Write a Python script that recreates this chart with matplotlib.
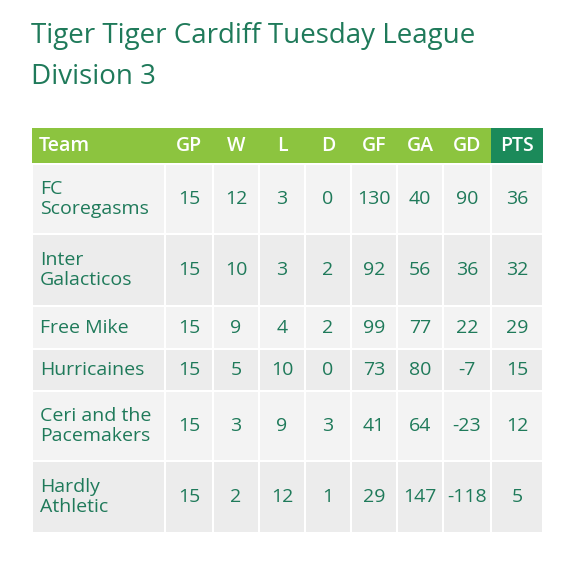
import matplotlib
matplotlib.use('Agg')
import matplotlib.pyplot as plt
from matplotlib.patches import Rectangle

title_lines = ['Tiger Tiger Cardiff Tuesday League', 'Division 3']
columns = ['Team', 'GP', 'W', 'L', 'D', 'GF', 'GA', 'GD', 'PTS']
teams = ['FC\nScoregasms', 'Inter\nGalacticos', 'Free Mike', 'Hurricaines',
         'Ceri and the\nPacemakers', 'Hardly\nAthletic']
gp = [15, 15, 15, 15, 15, 15]
w = [12, 10, 9, 5, 3, 2]
l = [3, 3, 4, 10, 9, 12]
d = [0, 2, 2, 0, 3, 1]
gf = [130, 92, 99, 73, 41, 29]
ga = [40, 56, 77, 80, 64, 147]
gd = [90, 36, 22, -7, -23, -118]
pts = [36, 32, 29, 15, 12, 5]

text_col = '#1f7a5a'
col_edges = [32, 165, 213, 259, 305, 351, 397, 443, 491, 543]
row_edges = [(165, 233), (235, 305), (307, 348), (350, 390), (392, 460), (462, 532)]

fig = plt.figure(figsize=(5.75, 5.61), dpi=100)
ax = fig.add_axes([0, 0, 1, 1])
ax.set_xlim(0, 575)
ax.set_ylim(561, 0)
ax.axis('off')

ax.text(31, 36, title_lines[0], fontsize=20, color=text_col, va='center', family='Open Sans')
ax.text(31, 77, title_lines[1], fontsize=20, color=text_col, va='center', family='Open Sans')

# header
ax.add_patch(Rectangle((32, 128), 459, 35, color='#8cc43f', lw=0))
ax.add_patch(Rectangle((491, 128), 52, 35, color='#1b8a5a', lw=0))
for i, c in enumerate(columns):
    if i == 0:
        ax.text(39, 146, c, fontsize=14, color='white', va='center',
                family='Open Sans', weight='semibold')
    else:
        cx = (col_edges[i] + col_edges[i + 1]) / 2
        ax.text(cx, 146, c, fontsize=14, color='white', va='center', ha='center',
                family='Open Sans', weight='semibold')

rows = list(zip(teams, gp, w, l, d, gf, ga, gd, pts))
for r, vals in enumerate(rows):
    y0, y1 = row_edges[r]
    fill = '#f3f3f3' if r % 2 == 0 else '#ececec'
    for i in range(len(columns)):
        x0, x1 = col_edges[i], col_edges[i + 1]
        ax.add_patch(Rectangle((x0 + 1, y0), x1 - x0 - 2, y1 - y0, color=fill, lw=0))
        cy = (y0 + y1) / 2
        if i == 0:
            ax.text(40, cy, vals[0], fontsize=14, color=text_col, va='center',
                    family='Open Sans', linespacing=1.2)
        else:
            ax.text((x0 + x1) / 2, cy, str(vals[i]), fontsize=14, color=text_col,
                    va='center', ha='center', family='Open Sans')

fig.savefig('out.png', dpi=100, facecolor='white')
